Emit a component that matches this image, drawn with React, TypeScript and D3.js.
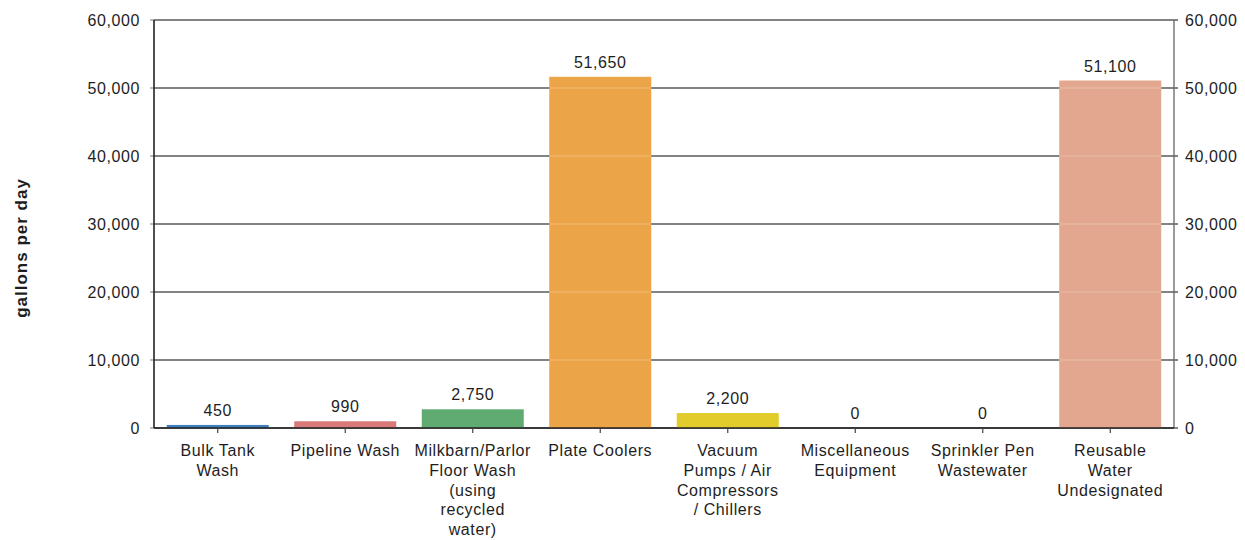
import React from "react";
import * as d3 from "d3";

const categories: string[][] = [
  ["Bulk Tank", "Wash"],
  ["Pipeline Wash"],
  ["Milkbarn/Parlor", "Floor Wash", "(using", "recycled", "water)"],
  ["Plate Coolers"],
  ["Vacuum", "Pumps / Air", "Compressors", "/ Chillers"],
  ["Miscellaneous", "Equipment"],
  ["Sprinkler Pen", "Wastewater"],
  ["Reusable", "Water", "Undesignated"],
];
const values = [450, 990, 2750, 51650, 2200, 0, 0, 51100];
const colors = ["#3f7fbd", "#d9797a", "#5fab72", "#eca448", "#e2cc2c", "#999999", "#999999", "#e2a78e"];
const yTicks = [0, 10000, 20000, 30000, 40000, 50000, 60000];
const yTitle = "gallons per day";

const W = 1245;
const H = 540;
const margin = { left: 154, right: 71, top: 20, bottom: 112 };
const font = "Arial, 'Liberation Sans', sans-serif";
const fs = 16;
const ls = 0.6;

export default function App() {
  const x = d3
    .scaleBand<number>()
    .domain(values.map((_, i) => i))
    .range([margin.left, W - margin.right])
    .paddingInner(0.2)
    .paddingOuter(0.1);
  const y = d3.scaleLinear().domain([0, 60000]).range([H - margin.bottom, margin.top]);
  const fmt = d3.format(",");
  const x0 = margin.left;
  const x1 = W - margin.right;
  const yb = y(0);

  return (
    <svg
      width={W}
      height={H}
      style={{ position: "absolute", left: 0, top: 0, background: "#fff" }}
      fontFamily={font}
    >
      {/* gridlines */}
      {yTicks.map((t) => (
        <line key={"g" + t} x1={x0} x2={x1 + 4} y1={y(t)} y2={y(t)} stroke="#5a5a5a" strokeWidth={1.3} />
      ))}
      {/* left ticks */}
      {yTicks.map((t) => (
        <line key={"lt" + t} x1={x0 - 4} x2={x0} y1={y(t)} y2={y(t)} stroke="#777" strokeWidth={1} />
      ))}
      {/* bars */}
      {values.map((v, i) => (
        <rect
          key={"b" + i}
          x={x(i)!}
          y={y(v)}
          width={x.bandwidth()}
          height={Math.max(0, yb - y(v))}
          fill={colors[i]}
        />
      ))}
      {/* faint gridline over tall bars */}
      {values.map((v, i) =>
        yTicks
          .filter((t) => t > 0 && t < v)
          .map((t) => (
            <line
              key={"o" + i + "-" + t}
              x1={x(i)!}
              x2={x(i)! + x.bandwidth()}
              y1={y(t)}
              y2={y(t)}
              stroke="#ffffff"
              strokeOpacity={0.25}
              strokeWidth={1}
            />
          ))
      )}
      {/* axes */}
      <line x1={x0} x2={x0} y1={margin.top} y2={yb} stroke="#222" strokeWidth={1.6} />
      <line x1={x1} x2={x1} y1={margin.top} y2={yb} stroke="#666" strokeWidth={1.3} />
      <line x1={x0} x2={x1} y1={yb} y2={yb} stroke="#222" strokeWidth={1.6} />
      {values.map((_, i) => {
        const cx = x(i)! + x.bandwidth() / 2;
        return <line key={"xt" + i} x1={cx} x2={cx} y1={yb} y2={yb + 5} stroke="#444" strokeWidth={1.2} />;
      })}
      {/* tick labels */}
      {yTicks.map((t) => (
        <text key={"ll" + t} x={x0 - 14} y={y(t)} dy="0.35em" textAnchor="end" fontSize={fs} letterSpacing={ls} fill="#1e1e1e">
          {fmt(t)}
        </text>
      ))}
      {yTicks.map((t) => (
        <text key={"rl" + t} x={x1 + 11} y={y(t)} dy="0.35em" textAnchor="start" fontSize={fs} letterSpacing={ls} fill="#1e1e1e">
          {fmt(t)}
        </text>
      ))}
      {/* value labels */}
      {values.map((v, i) => (
        <text
          key={"v" + i}
          x={x(i)! + x.bandwidth() / 2}
          y={y(v) - 9}
          textAnchor="middle"
          fontSize={fs}
          letterSpacing={ls}
          fill="#1e1e1e"
        >
          {fmt(v)}
        </text>
      ))}
      {/* category labels */}
      {categories.map((lines, i) => (
        <text
          key={"c" + i}
          x={x(i)! + x.bandwidth() / 2}
          y={yb + 28}
          textAnchor="middle"
          fontSize={fs}
          letterSpacing={ls}
          fill="#1e1e1e"
        >
          {lines.map((l, j) => (
            <tspan key={j} x={x(i)! + x.bandwidth() / 2} dy={j === 0 ? 0 : 19.8}>
              {l}
            </tspan>
          ))}
        </text>
      ))}
      {/* y-axis title */}
      <text
        transform={`translate(27, ${(margin.top + yb) / 2 + 24}) rotate(-90)`}
        textAnchor="middle"
        fontSize={17}
        letterSpacing={1}
        fontWeight="bold"
        fill="#1e1e1e"
      >
        {yTitle}
      </text>
    </svg>
  );
}
